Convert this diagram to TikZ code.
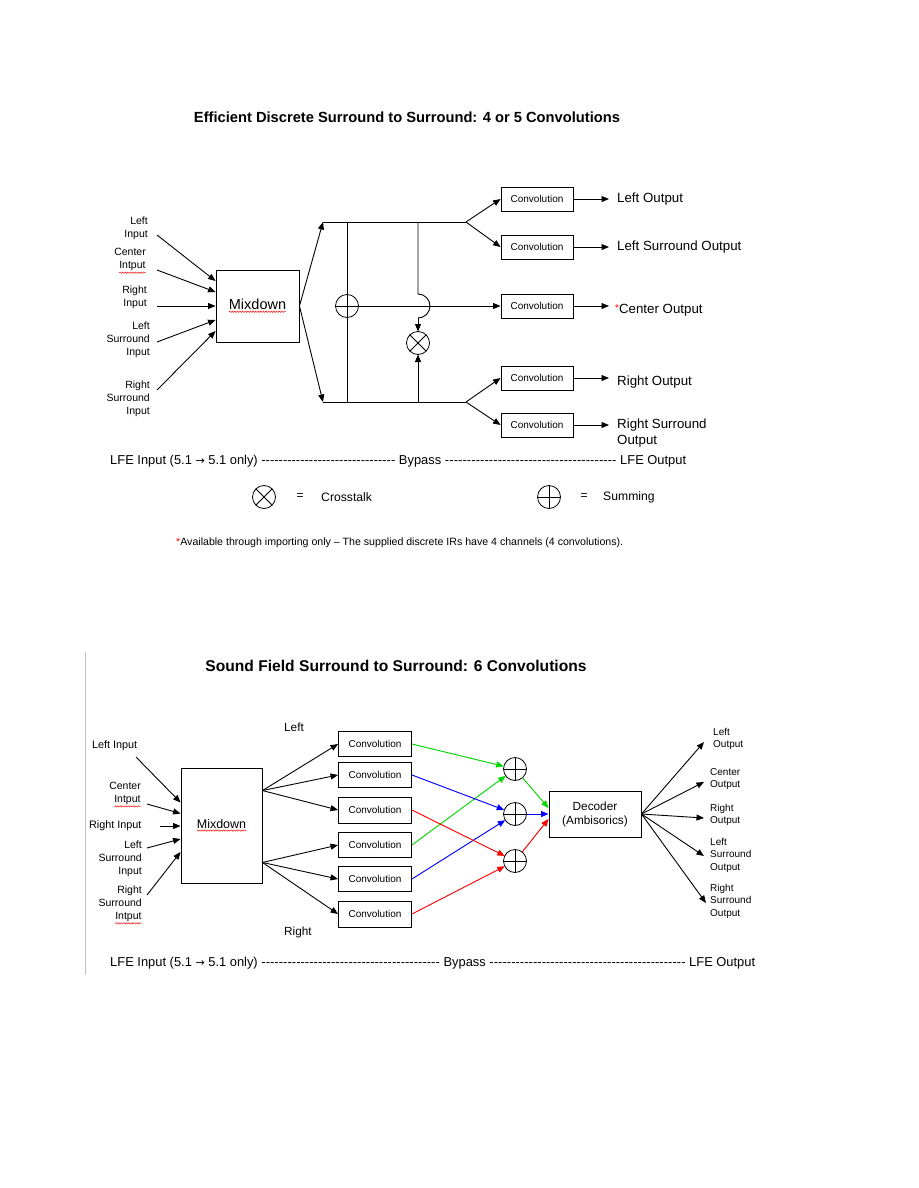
\documentclass[tikz,border=0pt]{standalone}
\usepackage{fontspec}
\setmainfont{Liberation Sans}
\newfontfamily\djv{DejaVu Sans}
\usetikzlibrary{arrows.meta,calc,decorations.pathmorphing}
\newcommand\fsz[2]{\fontsize{#1}{#2}\selectfont}
\newcommand\dashfillA[1]{\xleaders\hbox{-}\hskip 0pt plus #1fill\relax}
\newcommand\rarr{{\djv\fontsize{11}{13}\selectfont →}}
\newcommand\squig[1]{\tikz[baseline=(sqw.base)]{\node[shape=rectangle,draw=none,inner sep=0pt,outer sep=0pt,minimum width=0pt,minimum height=0pt,anchor=center] (sqw) {#1};\draw[red,line width=0.45pt,decorate,decoration={snake,amplitude=0.7pt,segment length=2.6pt}] ([yshift=-1.8pt]sqw.south west) -- ([yshift=-1.8pt]sqw.south east);}}
\definecolor{gline}{RGB}{0,215,0}
\tikzset{
  ln/.style={line width=0.9pt},
  arr/.style={line width=0.9pt,-{Triangle[length=7.5pt,width=6pt]}},
  box/.style={draw,line width=0.9pt,inner sep=0pt,align=center},
  convbox/.style={box,minimum width=72pt,minimum height=24pt,font=\fsz{10}{12}},
  lbl/.style={inner sep=0pt,align=right,font=\fsz{10.5}{13}},
  olbl/.style={inner sep=0pt,anchor=west,align=left,font=\fsz{13.3}{16}},
  olbl2/.style={inner sep=0pt,anchor=west,align=left,font=\fsz{10}{12.5}},
  sumsym/.style={circle,draw,line width=0.8pt,minimum size=23pt,inner sep=0pt,outer sep=0pt,
    path picture={\draw[line width=0.8pt] (path picture bounding box.north) -- (path picture bounding box.south)
      (path picture bounding box.west) -- (path picture bounding box.east);}},
  xsym/.style={circle,draw,line width=0.8pt,minimum size=23pt,inner sep=0pt,outer sep=0pt},
}
\begin{document}
\begin{tikzpicture}[x=1pt,y=-1pt]
\useasboundingbox (0,0) rectangle (918,1188);

% ================= Diagram 1 =================
\node[font=\bfseries\fsz{14.7}{17}] (t1) at (407,117) {Efficient Discrete Surround to Surround: 4 or 5 Convolutions};

\node[box,minimum width=83pt,minimum height=72pt,font=\fsz{14.5}{16}] (mx1) at (257.5,306) {\squig{Mixdown}};

\node[lbl,anchor=east] (l1) at (148,228) {Left\\Input};
\node[lbl,anchor=east] (l2) at (146,261) {Center\\\squig{Intput}};
\node[lbl,anchor=east] (l3) at (147,297) {Right\\Input};
\node[lbl,anchor=east] (l4) at (150,340) {Left\\Surround\\Input};
\node[lbl,anchor=east] (l5) at (150,399) {Right\\Surround\\Input};

\coordinate (a1) at (157,235);
\coordinate (a2) at (157,270);
\coordinate (a3) at (157,306);
\coordinate (a4) at (157,342);
\coordinate (a5) at (157,390);
\draw[arr] (a1) -- ($(mx1.west)+(0,-25)$);
\draw[arr] (a2) -- ($(mx1.west)+(0,-14)$);
\draw[arr] (a3) -- (mx1.west);
\draw[arr] (a4) -- ($(mx1.west)+(0,14)$);
\draw[arr] (a5) -- ($(mx1.west)+(0,25)$);

\coordinate (tA) at (323,222);
\coordinate (bA) at (323,402);
\coordinate (tB) at (466,222);
\coordinate (bB) at (466,402);
\draw[arr] (mx1.east) -- (tA);
\draw[arr] (mx1.east) -- (bA);
\draw[ln] (tA) -- (tB);
\draw[ln] (bA) -- (bB);

\node[convbox] (c1) at (537,199) {Convolution};
\node[convbox] (c2) at (537,247) {Convolution};
\node[convbox] (c3) at (537,306) {Convolution};
\node[convbox] (c4) at (537,378) {Convolution};
\node[convbox] (c5) at (537,425) {Convolution};

\draw[arr] (tB) -- (c1.west);
\draw[arr] (tB) -- (c2.west);
\draw[arr] (bB) -- (c4.west);
\draw[arr] (bB) -- (c5.west);

\node[sumsym] (s1) at (347,306) {};
\draw[ln] (s1 |- tA) -- (s1.north);
\draw[ln] (s1.south) -- (s1 |- bA);

\node[xsym] (x1) at (418,343) {};
\draw[line width=0.8pt] (x1.north east) -- (x1.south west) (x1.north west) -- (x1.south east);

\coordinate (j1) at (418,294);
\coordinate (j2) at (418,318);
\draw[ln] (x1 |- tA) -- (j1) arc[start angle=-90,end angle=90,radius=12];
\draw[arr] (j2) -- (x1.north);
\draw[arr] (x1 |- bA) -- (x1.south);
\draw[arr] (s1.east) -- (c3.west);

\coordinate (o1) at (609,199);
\coordinate (o2) at (609,247);
\coordinate (o3) at (609,306);
\coordinate (o4) at (609,378);
\coordinate (o5) at (609,425);
\draw[arr] (c1.east) -- (o1);
\draw[arr] (c2.east) -- (o2);
\draw[arr] (c3.east) -- (o3);
\draw[arr] (c4.east) -- (o4);
\draw[arr] (c5.east) -- (o5);

\node[olbl] (ol1) at (617,199) {Left Output};
\node[olbl] (ol2) at (617,247) {Left Surround Output};
\node[olbl] (ol3) at (615,310) {\raisebox{2pt}{\textcolor{red}{\fsz{10}{10}*}}Center Output};
\node[olbl] (ol4) at (617,382) {Right Output};
\node[olbl] (ol5) at (617,433) {Right Surround\\Output};

\node[anchor=west,inner sep=0pt,font=\fsz{12.9}{15}] (lfe1) at (110,461)
  {\hbox to 576pt{LFE Input (5.1 \rarr{} 5.1 only) \dashfillA{0.78} Bypass \dashfillA{1} LFE Output}};

\node[xsym] (lx) at (264,497) {};
\draw[line width=0.8pt] (lx.north east) -- (lx.south west) (lx.north west) -- (lx.south east);
\node[font=\fsz{12}{14}] (eq1) at (300,497) {=};
\node[anchor=west,inner sep=0pt,font=\fsz{12.2}{14}] (ct) at (321,497) {Crosstalk};
\node[sumsym] (ls) at (549,497) {};
\node[font=\fsz{12}{14}] (eq2) at (584,497) {=};
\node[anchor=west,inner sep=0pt,font=\fsz{12.2}{14}] (sm) at (603,497) {Summing};

\node[anchor=west,inner sep=0pt,font=\fsz{10.6}{12}] (fn) at (176,543)
  {\textcolor{red}{*}Available through importing only \textendash{} The supplied discrete IRs have 4 channels (4 convolutions).};

% ================= Diagram 2 =================
\draw[gray!50,line width=0.6pt] (85,652) -- (85,975);

\node[font=\bfseries\fsz{15.6}{18}] (t2) at (396,666) {Sound Field Surround to Surround: 6 Convolutions};

\node[box,minimum width=81pt,minimum height=115pt,font=\fsz{12.5}{15}] (mx2) at (221.5,825.5) {\squig{Mixdown}};

\node[inner sep=0pt,anchor=west,font=\fsz{10.8}{13}] (k1) at (92,746) {Left Input};
\node[lbl,anchor=east,font=\fsz{10.5}{12.5}] (k2) at (141,795) {Center\\\squig{Intput}};
\node[inner sep=0pt,anchor=west,font=\fsz{10.8}{13}] (k3) at (89,826) {Right Input};
\node[lbl,anchor=east,font=\fsz{10.5}{13}] (k4) at (142,859) {Left\\Surround\\Input};
\node[lbl,anchor=east,font=\fsz{10.5}{13}] (k5) at (142,905) {Right\\Surround\\\squig{Intput}};

\coordinate (b1) at (136,757);
\coordinate (b2) at (147,804);
\coordinate (b3) at (160,826);
\coordinate (b4) at (147,848);
\coordinate (b5) at (147,895);
\draw[arr] (b1) -- ($(mx2.west)+(0,-23)$);
\draw[arr] (b2) -- ($(mx2.west)+(0,-12)$);
\draw[arr] (b3) -- ($(mx2.west)+(0,0.5)$);
\draw[arr] (b4) -- ($(mx2.west)+(0,13.5)$);
\draw[arr] (b5) -- ($(mx2.west)+(0,26.5)$);

\node[convbox,minimum width=73pt,minimum height=25pt] (v1) at (375,744) {Convolution};
\node[convbox,minimum width=73pt,minimum height=25pt] (v2) at (375,775) {Convolution};
\node[convbox,minimum width=73pt,minimum height=26pt] (v3) at (375,810) {Convolution};
\node[convbox,minimum width=73pt,minimum height=25pt] (v4) at (375,845) {Convolution};
\node[convbox,minimum width=73pt,minimum height=25pt] (v5) at (375,879) {Convolution};
\node[convbox,minimum width=73pt,minimum height=26pt] (v6) at (375,914) {Convolution};

\coordinate (p1) at ($(mx2.north east)+(0,23)$);
\coordinate (p2) at ($(mx2.south east)+(0,-21)$);
\draw[arr] (p1) -- (v1.west);
\draw[arr] (p1) -- (v2.west);
\draw[arr] (p1) -- (v3.west);
\draw[arr] (p2) -- (v4.west);
\draw[arr] (p2) -- (v5.west);
\draw[arr] (p2) -- (v6.west);

\node[inner sep=0pt,font=\fsz{11.8}{14}] (lt) at (294,727) {Left};
\node[inner sep=0pt,font=\fsz{11.8}{14}] (rt) at (298,932) {Right};

\node[sumsym] (q1) at (515,769) {};
\node[sumsym] (q2) at (515,814) {};
\node[sumsym] (q3) at (515,861) {};

\node[box,minimum width=92pt,minimum height=46pt,font=\fsz{11.8}{14}] (dec) at (595,814) {Decoder\\(Ambisorics)};

\draw[arr,draw=gline,fill=gline] (v1.east) -- (q1);
\draw[arr,draw=gline,fill=gline] (v4.east) -- (q1);
\draw[arr,draw=blue,fill=blue] (v2.east) -- (q2);
\draw[arr,draw=blue,fill=blue] (v5.east) -- (q2);
\draw[arr,draw=red,fill=red] (v3.east) -- (q3);
\draw[arr,draw=red,fill=red] (v6.east) -- (q3);
\draw[arr,draw=gline,fill=gline] (q1) -- ($(dec.west)+(0,-6)$);
\draw[arr,draw=blue,fill=blue] (q2) -- (dec.west);
\draw[arr,draw=red,fill=red] (q3) -- ($(dec.west)+(0,5)$);

\coordinate (e1) at (704,742);
\coordinate (e2) at (704,782);
\coordinate (e3) at (704,818);
\coordinate (e4) at (704,856);
\coordinate (e5) at (706,903);
\draw[arr] (dec.east) -- (e1);
\draw[arr] (dec.east) -- (e2);
\draw[arr] (dec.east) -- (e3);
\draw[arr] (dec.east) -- (e4);
\draw[arr] (dec.east) -- (e5);

\node[olbl2] (u1) at (713,739) {Left\\Output};
\node[olbl2] (u2) at (710,779) {Center\\Output};
\node[olbl2] (u3) at (710,815) {Right\\Output};
\node[olbl2] (u4) at (710,855) {Left\\Surround\\Output};
\node[olbl2] (u5) at (710,901) {Right\\Surround\\Output};

\node[anchor=west,inner sep=0pt,font=\fsz{12.9}{15}] (lfe2) at (110,963)
  {\hbox to 645pt{LFE Input (5.1 \rarr{} 5.1 only) \dashfillA{0.91} Bypass \dashfillA{1} LFE Output}};
\end{tikzpicture}
\end{document}
